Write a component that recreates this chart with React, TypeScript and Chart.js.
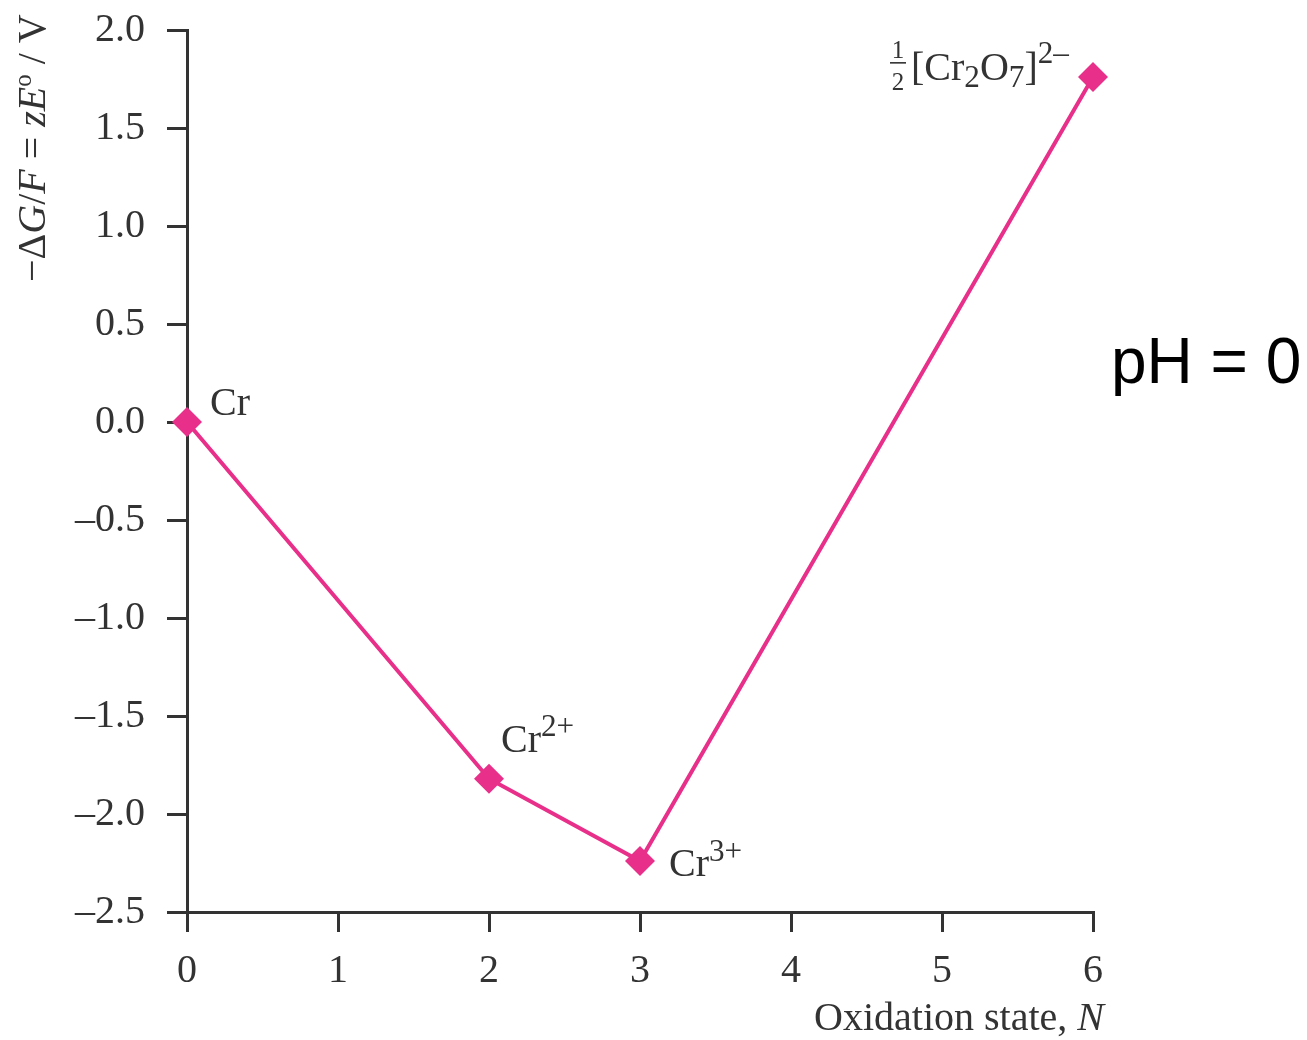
import React, { useEffect, useRef } from "react";
import { Chart, registerables } from "chart.js";

Chart.register(...registerables);

// ---- data ----
const oxidationStates = [0, 2, 3, 6];
const freeEnergies = [0, -1.82, -2.24, 1.76];
const xTickValues = [0, 1, 2, 3, 4, 5, 6];
const yTickValues = [2.0, 1.5, 1.0, 0.5, 0.0, -0.5, -1.0, -1.5, -2.0, -2.5];
const speciesBase = ["Cr", "Cr", "Cr", "Cr2O7"];
const speciesCharge = ["", "2+", "3+", "2–"];
const xTitle = ["Oxidation state, ", "N"];
const conditionText = "pH = 0";

const SERIF = '"Liberation Serif", "Times New Roman", Times, serif';
const SANS = '"Liberation Sans", Arial, Helvetica, sans-serif';
const INK = "#333333";
const PINK = "#E8308A";
const FS = 40;

type Seg = { t: string; it?: boolean; dy?: number; s?: number };

function measureRich(ctx: CanvasRenderingContext2D, segs: Seg[], size: number) {
  let w = 0;
  for (const sg of segs) {
    const fs = size * (sg.s ?? 1);
    ctx.font = `${sg.it ? "italic " : ""}${fs}px ${SERIF}`;
    w += ctx.measureText(sg.t).width;
  }
  return w;
}

function drawRich(ctx: CanvasRenderingContext2D, segs: Seg[], x: number, y: number, size: number) {
  let cx = x;
  for (const sg of segs) {
    const fs = size * (sg.s ?? 1);
    ctx.font = `${sg.it ? "italic " : ""}${fs}px ${SERIF}`;
    ctx.fillText(sg.t, cx, y + (sg.dy ?? 0));
    cx += ctx.measureText(sg.t).width;
  }
  return cx - x;
}

const annotations = {
  id: "annotations",
  afterDatasetsDraw(chart: any) {
    const ctx: CanvasRenderingContext2D = chart.ctx;
    const xs = chart.scales.x;
    const ys = chart.scales.y;
    ctx.save();
    ctx.fillStyle = INK;
    ctx.textBaseline = "alphabetic";
    ctx.textAlign = "left";
    const px = oxidationStates.map((v) => xs.getPixelForValue(v));
    const py = freeEnergies.map((v) => ys.getPixelForValue(v));

    // Cr
    drawRich(ctx, [{ t: speciesBase[0] }], px[0] + 23, py[0] - 7, FS);
    // Cr2+
    drawRich(ctx, [{ t: speciesBase[1] }, { t: speciesCharge[1], s: 0.78, dy: -16 }], px[1] + 12, py[1] - 27, FS);
    // Cr3+
    drawRich(ctx, [{ t: speciesBase[2] }, { t: speciesCharge[2], s: 0.78, dy: -15 }], px[2] + 29, py[2] + 15, FS);
    // 1/2 [Cr2O7]2-
    {
      const bx = px[3];
      const by = py[3];
      const fcx = bx - 195;
      ctx.textAlign = "center";
      ctx.font = `25px ${SERIF}`;
      ctx.fillText("1", fcx, by - 19);
      ctx.fillText("2", fcx, by + 13);
      ctx.fillRect(fcx - 8, by - 15, 16, 1.6);
      ctx.textAlign = "left";
      drawRich(
        ctx,
        [
          { t: "[" },
          { t: "Cr" },
          { t: "2", s: 0.78, dy: 7 },
          { t: "O" },
          { t: "7", s: 0.78, dy: 7 },
          { t: "]" },
          { t: speciesCharge[3], s: 0.78, dy: -17 },
        ],
        bx - 182,
        by + 3,
        FS
      );
    }

    ctx.restore();
  },
  afterDraw(chart: any) {
    const ctx: CanvasRenderingContext2D = chart.ctx;
    ctx.save();
    ctx.fillStyle = INK;
    ctx.textBaseline = "alphabetic";
    ctx.textAlign = "left";
    // y-axis title, rotated
    ctx.translate(45, 282);
    ctx.rotate(-Math.PI / 2);
    drawRich(
      ctx,
      [
        { t: "−Δ" },
        { t: "G", it: true },
        { t: "/" },
        { t: "F", it: true },
        { t: " = " },
        { t: "zE", it: true },
        { t: "o", s: 0.62, dy: -14 },
        { t: " / V" },
      ],
      0,
      0,
      FS
    );
    ctx.restore();

    // x-axis title, right aligned
    ctx.save();
    ctx.fillStyle = INK;
    ctx.textBaseline = "alphabetic";
    const segs: Seg[] = [{ t: xTitle[0] }, { t: xTitle[1], it: true }];
    const w = measureRich(ctx, segs, FS);
    drawRich(ctx, segs, 1104 - w, 1030, FS);
    ctx.restore();

    // pH annotation
    ctx.save();
    ctx.fillStyle = "#000000";
    ctx.font = `64px ${SANS}`;
    ctx.textBaseline = "alphabetic";
    ctx.textAlign = "left";
    ctx.fillText(conditionText, 1111, 383);
    ctx.restore();
  },
};

export default function App() {
  const canvasRef = useRef<HTMLCanvasElement | null>(null);

  useEffect(() => {
    const canvas = canvasRef.current;
    if (!canvas) return;
    const chart = new Chart(canvas, {
      type: "line",
      data: {
        datasets: [
          {
            data: oxidationStates.map((x, i) => ({ x, y: freeEnergies[i] })),
            borderColor: PINK,
            backgroundColor: PINK,
            borderWidth: 4,
            pointStyle: "rectRot",
            pointRadius: 15,
            pointHoverRadius: 15,
            pointBackgroundColor: PINK,
            pointBorderColor: PINK,
            pointBorderWidth: 0,
            tension: 0,
            clip: false as any,
          },
        ],
      },
      options: {
        animation: false,
        responsive: false,
        devicePixelRatio: 1,
        events: [],
        layout: { padding: { left: 0, top: 30, right: 214, bottom: 0 } },
        plugins: {
          legend: { display: false },
          tooltip: { enabled: false },
          title: { display: false },
        },
        scales: {
          x: {
            type: "linear",
            min: 0,
            max: 6,
            afterBuildTicks: (scale: any) => {
              scale.ticks = xTickValues.map((v) => ({ value: v }));
            },
            afterFit: (scale: any) => {
              scale.height = 128;
              scale.paddingLeft = 0;
              scale.paddingRight = 0;
            },
            ticks: {
              color: INK,
              font: { family: SERIF, size: FS },
              padding: 15,
              maxRotation: 0,
              autoSkip: false,
              callback: (v: any) => String(v),
            },
            grid: {
              drawOnChartArea: false,
              drawTicks: true,
              tickLength: 20,
              color: INK,
              lineWidth: 3,
            },
            border: { display: true, color: INK, width: 3 },
          },
          y: {
            type: "linear",
            min: -2.5,
            max: 2.0,
            afterBuildTicks: (scale: any) => {
              scale.ticks = yTickValues.map((v) => ({ value: v }));
            },
            afterFit: (scale: any) => {
              scale.width = 187;
              scale.paddingTop = 0;
              scale.paddingBottom = 0;
            },
            ticks: {
              color: INK,
              font: { family: SERIF, size: FS },
              padding: 22,
              autoSkip: false,
              callback: (v: any) => {
                const n = Number(v);
                const s = Math.abs(n).toFixed(1);
                return n < 0 ? "–" + s : s;
              },
            },
            grid: {
              drawOnChartArea: false,
              drawTicks: true,
              tickLength: 20,
              color: INK,
              lineWidth: 3,
            },
            border: { display: true, color: INK, width: 3 },
          },
        },
      },
      plugins: [annotations],
    });
    return () => chart.destroy();
  }, []);

  return (
    <div style={{ position: "absolute", left: 0, top: 0, width: 1307, height: 1040, background: "#ffffff" }}>
      <canvas ref={canvasRef} width={1307} height={1040} style={{ display: "block", width: 1307, height: 1040 }} />
    </div>
  );
}
